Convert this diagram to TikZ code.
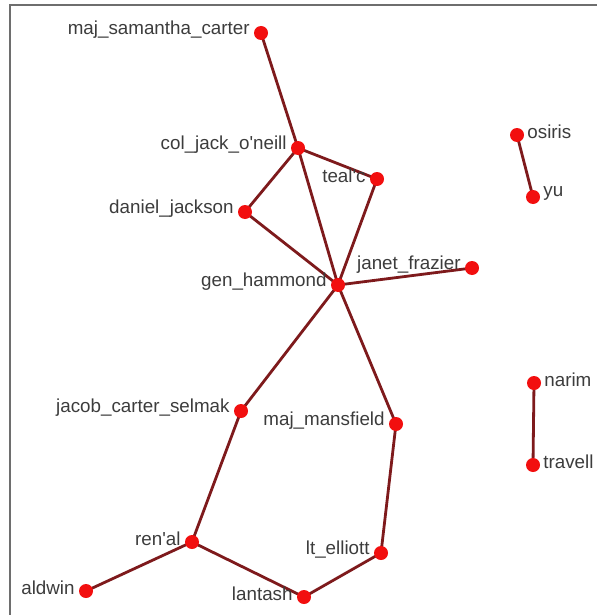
\documentclass[tikz,border=0pt]{standalone}
\usepackage{fontspec}
\setmainfont{Liberation Sans}
\usepackage{tikz}
\usetikzlibrary{backgrounds}
\definecolor{NetRed}{HTML}{F20F0F}
\definecolor{NetTie}{HTML}{7E1A1C}
\definecolor{NetInk}{HTML}{3C3C3C}
\definecolor{NetFrame}{HTML}{6E6E6E}
\tikzset{
  actor/.style={circle,fill=NetRed,inner sep=0pt,minimum size=14pt},
  tag/.style={text=NetInk,inner sep=0pt,yshift=3.5pt,
    font=\fontsize{18.8}{20}\selectfont},
  lt/.style={actor,label={[tag,label distance=4pt]left:#1}},
  rt/.style={actor,label={[tag,label distance=3pt]right:#1}},
  tie/.style={draw=NetTie,line width=2.8pt}
}

\begin{document}
\begin{tikzpicture}[x=1pt,y=-1pt]
        \useasboundingbox (0,0) rectangle (597,615);
        \draw[NetFrame,line width=2pt] (10,615) -- (10,5) -- (597,5);
        % main component
        \node[lt=maj\_samantha\_carter] (sam) at (261,33) {};
        \node[lt=col\_jack\_o\textquotesingle neill] (oneill) at (298,148) {};
        \node[lt=teal\textquotesingle c] (tealc) at (377,179) {};
        \node[lt=daniel\_jackson] (daniel) at (245,212) {};
        \node[lt=gen\_hammond,label distance=0pt] (hammond) at (338,285) {};
        \node[lt=janet\_frazier] (janet) at (472,268) {};
        \node[lt=jacob\_carter\_selmak] (jacob) at (241,411) {};
        \node[lt=maj\_mansfield] (mansfield) at (396,424) {};
        \node[lt=ren\textquotesingle al] (renal) at (192,542) {};
        \node[lt=lt\_elliott] (elliott) at (381,553) {};
        \node[lt=aldwin] (aldwin) at (86,591) {};
        \node[lt=lantash] (lantash) at (304,597) {};
        % pairs
        \node[rt=osiris] (osiris) at (517,135) {};
        \node[rt=yu] (yu) at (533,197) {};
        \node[rt=narim] (narim) at (534,383) {};
        \node[rt=travell] (travell) at (533,465) {};
        \begin{pgfonlayer}{background}
        \draw[tie] (sam.center) -- (oneill.center);
        \draw[tie] (oneill.center) -- (tealc.center);
        \draw[tie] (oneill.center) -- (daniel.center);
        \draw[tie] (oneill.center) -- (hammond.center);
        \draw[tie] (daniel.center) -- (hammond.center);
        \draw[tie] (tealc.center) -- (hammond.center);
        \draw[tie] (hammond.center) -- (janet.center);
        \draw[tie] (hammond.center) -- (jacob.center);
        \draw[tie] (hammond.center) -- (mansfield.center);
        \draw[tie] (mansfield.center) -- (elliott.center);
        \draw[tie] (elliott.center) -- (lantash.center);
        \draw[tie] (lantash.center) -- (renal.center);
        \draw[tie] (renal.center) -- (jacob.center);
        \draw[tie] (renal.center) -- (aldwin.center);
        \draw[tie] (osiris.center) -- (yu.center);
        \draw[tie] (narim.center) -- (travell.center);
        \end{pgfonlayer}
      \end{tikzpicture}
\end{document}
